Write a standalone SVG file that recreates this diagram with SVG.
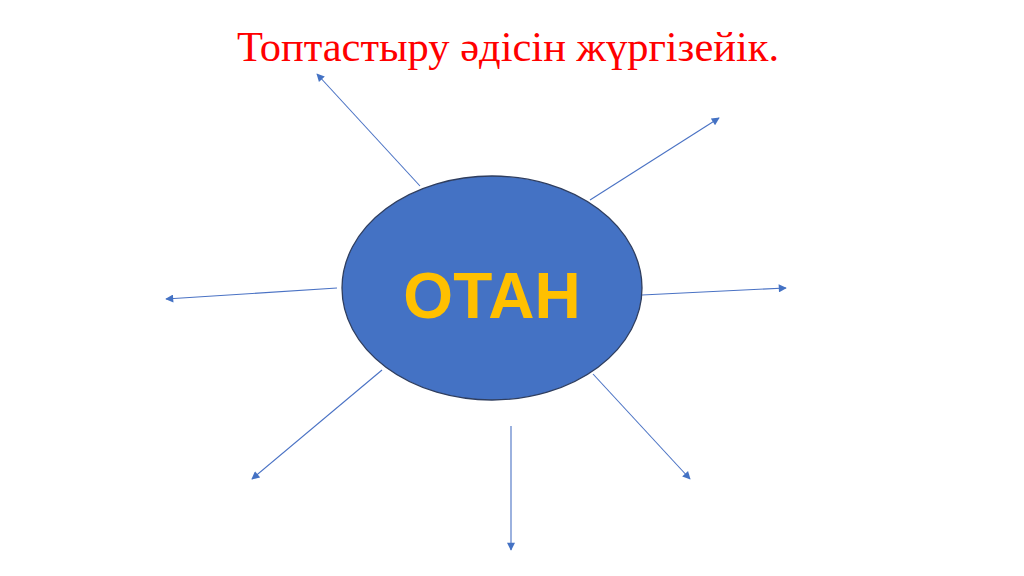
<svg xmlns="http://www.w3.org/2000/svg" width="1024" height="576" viewBox="0 0 1024 576">
  <style>
    .title { font-family: "Liberation Serif", "Times New Roman", serif; font-size: 42.5px; fill: #FF0000; }
    .label { font-family: "Liberation Sans", Arial, sans-serif; font-weight: bold; font-size: 64px; fill: #FFC000; }
    .conn { stroke: #4A72C4; stroke-width: 1.1; fill: none; marker-end: url(#arrow); }
  </style>
  <defs>
    <marker id="arrow" viewBox="0 0 10 10" refX="9" refY="5" markerWidth="9" markerHeight="8" markerUnits="userSpaceOnUse" orient="auto">
      <path d="M0,0 L10,5 L0,10 z" fill="#4472C4"/>
    </marker>
  </defs>
  <rect width="1024" height="576" fill="#FFFFFF"/>
  <g id="title">
    <text class="title" x="508" y="61" text-anchor="middle">Топтастыру әдісін жүргізейік.</text>
  </g>
  <g id="connectors">
    <line class="conn" x1="420" y1="186" x2="317" y2="74"/>
    <line class="conn" x1="590" y1="200" x2="719" y2="118"/>
    <line class="conn" x1="337" y1="288" x2="166" y2="299"/>
    <line class="conn" x1="642" y1="295" x2="786" y2="288"/>
    <line class="conn" x1="382" y1="370" x2="252" y2="479"/>
    <line class="conn" x1="511" y1="426" x2="511" y2="550"/>
    <line class="conn" x1="593" y1="374" x2="690" y2="479"/>
  </g>
  <g id="node-otan">
    <ellipse cx="492" cy="288" rx="150" ry="112" fill="#4472C4" stroke="#2F3E5F" stroke-width="1.3"/>
    <text class="label" x="492" y="318" text-anchor="middle">ОТАН</text>
  </g>
</svg>
